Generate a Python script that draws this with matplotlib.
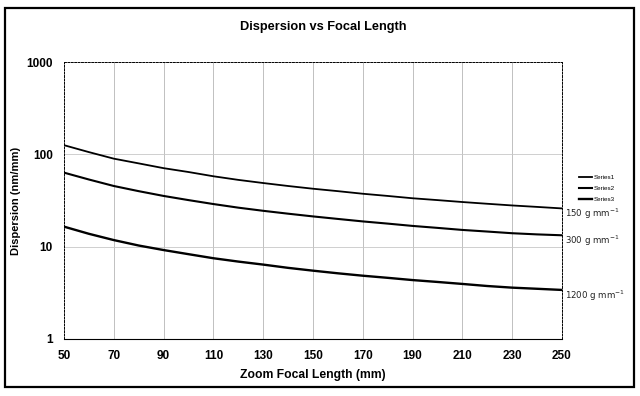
import matplotlib

matplotlib.use("Agg")
import matplotlib.pyplot as plt
from matplotlib.patches import Rectangle

plt.rcParams["font.family"] = ["Liberation Sans", "DejaVu Sans"]

# values (dispersion in nm/mm, log axis)
focal_length = [50, 60, 70, 80, 90, 100, 110, 120, 130, 140, 150,
                160, 170, 180, 190, 200, 210, 220, 230, 240, 250]
series1 = [126, 106, 90, 80, 71, 64.5, 58, 53, 49, 45.5, 42.5,
           40, 37.5, 35.5, 33.5, 32, 30.5, 29.2, 28, 27, 26]
series2 = [63.5, 53.5, 45.5, 40, 35.5, 32, 29, 26.5, 24.5, 22.8, 21.3,
           20, 18.8, 17.8, 16.8, 16, 15.2, 14.6, 14, 13.6, 13.3]
series3 = [16.5, 13.8, 11.8, 10.3, 9.2, 8.3, 7.5, 6.9, 6.4, 5.9, 5.5,
           5.15, 4.85, 4.6, 4.35, 4.15, 3.95, 3.75, 3.6, 3.5, 3.4]
series_names = ["Series1", "Series2", "Series3"]
hand_labels = ["150 g mm$^{-1}$", "300 g mm$^{-1}$", "1200 g mm$^{-1}$"]
x_ticks = list(range(50, 251, 20))
y_ticks = [1, 10, 100, 1000]

fig = plt.figure(figsize=(6.4, 3.96), dpi=100, facecolor="white")
ax = fig.add_axes([0.100, 0.144, 0.778, 0.699])

# outer chart frame
fig.patches.append(Rectangle((0.008, 0.022), 0.982, 0.958, transform=fig.transFigure,
                             fill=False, edgecolor="black", linewidth=1.6))

ax.set_yscale("log")
ax.set_xlim(50, 250)
ax.set_ylim(1, 1000)

for xt in x_ticks[1:-1]:
    ax.axvline(xt, color="#b5b5b5", linewidth=0.6, zorder=0)
for yt in y_ticks[1:-1]:
    ax.axhline(yt, color="#c8c8c8", linewidth=0.6, zorder=0)

widths = [1.3, 1.5, 1.7]
for ys, name, lw in zip([series1, series2, series3], series_names, widths):
    ax.plot(focal_length, ys, color="black", linewidth=lw, label=name)

# handwritten notes next to the line ends
for ys, lab in zip([series1, series2, series3], hand_labels):
    ax.annotate(lab, xy=(250, ys[-1]), xytext=(2, -4), textcoords="offset points",
                ha="left", va="center", fontsize=6.2, color="#222222",
                family=["DejaVu Sans"], annotation_clip=False)

ax.set_xticks(x_ticks)
ax.set_xticklabels([str(v) for v in x_ticks], fontsize=8.5, fontweight="bold")
ax.set_yticks(y_ticks)
ax.set_yticklabels([str(v) for v in y_ticks], fontsize=8.5, fontweight="bold")
ax.minorticks_off()
ax.tick_params(length=0, pad=8)

for side in ("left", "top", "right"):
    ax.spines[side].set_linestyle((0, (2, 1.5)))
    ax.spines[side].set_linewidth(0.7)
ax.spines["bottom"].set_linewidth(0.8)

ax.set_xlabel("Zoom Focal Length (mm)", fontsize=8.7, fontweight="bold", labelpad=5)
ax.set_ylabel("Dispersion (nm/mm)", fontsize=8, fontweight="bold")
ax.yaxis.set_label_coords(-0.086, 0.5)
fig.text(0.505, 0.932, "Dispersion vs Focal Length", ha="center", va="center",
         fontsize=9.2, fontweight="bold")

fig.legend(loc="upper left", bbox_to_anchor=(0.900, 0.565), frameon=False,
           fontsize=4.5, handlelength=2.2, labelspacing=0.9, handletextpad=0.2,
           borderaxespad=0)

fig.savefig("out.png", dpi=100, facecolor="white")
